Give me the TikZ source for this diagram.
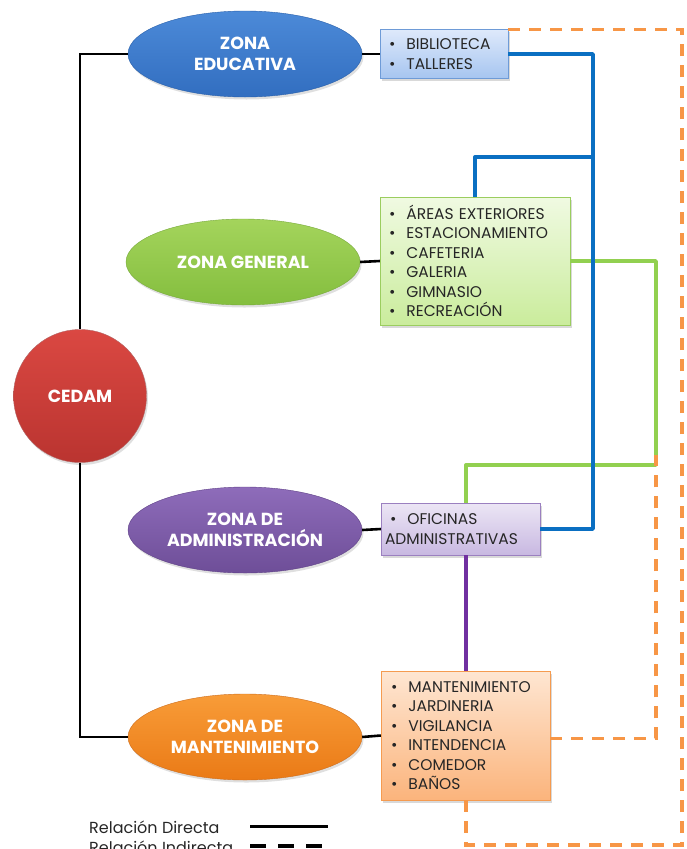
\documentclass[tikz,border=0pt]{standalone}
\usepackage{fontspec}
\setmainfont{Poppins}
\usetikzlibrary{shapes.geometric,shadows}

\definecolor{txt}{HTML}{262626}
\definecolor{lnblue}{HTML}{0A6FC2}
\definecolor{lngreen}{HTML}{92D050}
\definecolor{lnpurple}{HTML}{7030A0}
\definecolor{lnorange}{HTML}{F79646}

\tikzset{
  zone/.style={ellipse, minimum width=234pt, minimum height=86pt, inner sep=0pt,
    text=white, align=center, font=\fontsize{17.5}{21}\selectfont\bfseries,
    drop shadow={opacity=0.25, shadow xshift=1.5pt, shadow yshift=-2.5pt}},
  listbox/.style={rectangle, inner ysep=0pt, text=txt, align=left,
    font=\fontsize{15.5}{19.5}\selectfont,
    drop shadow={opacity=0.3, shadow xshift=2pt, shadow yshift=-2.5pt}},
  direct/.style={line width=2.6pt, black},
  link/.style={line width=3.4pt, line join=round},
  indirect/.style={line width=3.6pt, lnorange, dash pattern=on 12pt off 9pt},
}
\newcommand{\itm}{\hspace*{7pt}\textbullet\hspace{11pt}}

\begin{document}
\begin{tikzpicture}[x=1pt,y=-1pt]
\useasboundingbox (0,0) rectangle (687,849);

% central node
\node[circle, minimum size=133pt, inner sep=0pt, draw=red!50!black!60,
  top color={rgb,255:red,218;green,72;blue,66}, bottom color={rgb,255:red,186;green,52;blue,48},
  text=white, font=\fontsize{17.5}{21}\selectfont\bfseries,
  drop shadow={opacity=0.25, shadow xshift=1.5pt, shadow yshift=-2.5pt}]
  (cedam) at (80,396) {CEDAM};

% zones
\node[zone, draw={rgb,255:red,40;green,95;blue,170},
  top color={rgb,255:red,76;green,138;blue,216}, bottom color={rgb,255:red,50;green,110;blue,192}]
  (edu) at (245,54) {ZONA\\EDUCATIVA};
\node[zone, draw={rgb,255:red,120;green,170;blue,60},
  top color={rgb,255:red,164;green,212;blue,92}, bottom color={rgb,255:red,132;green,190;blue,62}]
  (gen) at (243,262) {ZONA GENERAL};
\node[zone, draw={rgb,255:red,95;green,65;blue,135},
  top color={rgb,255:red,142;green,108;blue,186}, bottom color={rgb,255:red,110;green,78;blue,152}]
  (adm) at (245,530) {ZONA DE\\ADMINISTRACIÓN};
\node[zone, draw={rgb,255:red,205;green,110;blue,30},
  top color={rgb,255:red,248;green,156;blue,56}, bottom color={rgb,255:red,234;green,122;blue,22}]
  (man) at (245,737) {ZONA DE\\MANTENIMIENTO};

% lists
\node[listbox, minimum width=128pt, minimum height=49pt, text width=124pt, inner xsep=2pt,
  draw={rgb,255:red,110;green,155;blue,215},
  top color={rgb,255:red,222;green,233;blue,251}, bottom color={rgb,255:red,166;green,197;blue,240}]
  (bib) at (444,54) {\itm BIBLIOTECA\\\itm TALLERES};
\node[listbox, minimum width=190pt, minimum height=128pt, text width=186pt, inner xsep=2pt,
  draw={rgb,255:red,155;green,205;blue,95},
  top color={rgb,255:red,240;green,250;blue,226}, bottom color={rgb,255:red,202;green,236;blue,156}]
  (gbox) at (475,261) {\itm ÁREAS EXTERIORES\\\itm ESTACIONAMIENTO\\\itm CAFETERIA\\\itm GALERIA\\\itm GIMNASIO\\\itm RECREACIÓN};
\node[listbox, minimum width=159pt, minimum height=52pt, text width=157pt, inner xsep=1pt,
  draw={rgb,255:red,155;green,128;blue,192},
  top color={rgb,255:red,236;green,230;blue,245}, bottom color={rgb,255:red,200;green,184;blue,225}]
  (ofi) at (460.5,529) {\hspace*{1pt}\itm OFICINAS\\\hspace*{3pt}ADMINISTRATIVAS};
\node[listbox, minimum width=169pt, minimum height=129pt, text width=165pt, inner xsep=2pt,
  draw={rgb,255:red,245;green,155;blue,80},
  top color={rgb,255:red,254;green,230;blue,210}, bottom color={rgb,255:red,251;green,180;blue,124}]
  (mbox) at (465.5,735.5) {\hspace*{1pt}\itm MANTENIMIENTO\\\hspace*{1pt}\itm JARDINERIA\\\hspace*{1pt}\itm VIGILANCIA\\\hspace*{1pt}\itm INTENDENCIA\\\hspace*{1pt}\itm COMEDOR\\\hspace*{1pt}\itm BAÑOS};

% direct relations
\draw[direct] (cedam.north) |- (edu.west);
\draw[direct] (cedam.south) |- (man.west);
\draw[direct] (edu.east) -- (bib.west);
\draw[direct] (gen.east) -- (gbox.west);
\draw[direct] (adm.east) -- (ofi.west);
\draw[direct] (man.east) -- (mbox.west);

% junction points
\coordinate (bj) at (593,157);
\coordinate (gj) at (656,465);
\coordinate (oc) at (682,845);

% links between the lists
\draw[link, lngreen] (gbox.east) -| (gj) -| ([xshift=85pt]ofi.north west);
\draw[link, lnblue] (bib.east) -| (bj) |- (ofi.east);
\draw[link, lnblue] (bj) -| ([xshift=95pt]gbox.north west);
\draw[link, lnpurple] ([xshift=85pt]ofi.south west) -- ([xshift=85pt]mbox.north west);

% indirect relations
\draw[indirect] ([yshift=-3pt]mbox.east) -| ([yshift=10pt]gj);
\draw[indirect] ([xshift=85pt]mbox.south west) |- (oc) |- (bib.north east);

% legend
\node[anchor=base west, text=txt, font=\fontsize{16}{18}\selectfont, inner sep=0pt]
  (l1) at (89,833) {Relación Directa};
\node[anchor=base west, text=txt, font=\fontsize{16}{18}\selectfont, inner sep=0pt]
  (l2) at (89,853) {Relación Indirecta};
\coordinate (d1) at (250,826);
\coordinate (d2) at (328,826);
\coordinate (i1) at (250,846);
\coordinate (i2) at (322,846);
\draw[line width=3pt] (d1) -- (d2);
\draw[line width=3.5pt, dash pattern=on 16pt off 12pt] (i1) -- (i2);
\end{tikzpicture}
\end{document}
